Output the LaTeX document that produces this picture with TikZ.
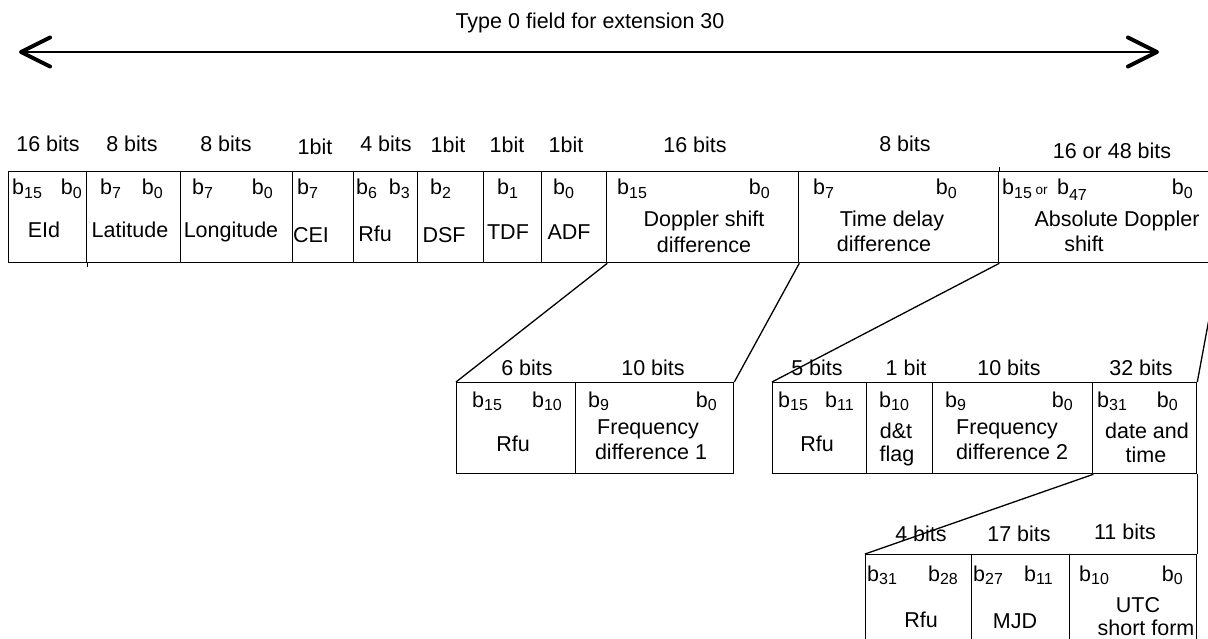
\documentclass[tikz,border=0pt]{standalone}
\usepackage{fontspec}
\setmainfont{Liberation Sans}
\usetikzlibrary{arrows.meta}
\newcommand{\bsub}[1]{b\raisebox{-3.5pt}{\fontsize{16}{16}\selectfont #1}}
\newcommand{\bsubor}{\bsub{15}\,{\fontsize{13.5}{13.5}\selectfont or}\, b\raisebox{-6pt}{\fontsize{16}{16}\selectfont 47}}
\begin{document}
\begin{tikzpicture}[x=1pt,y=-1pt,
  txt/.style={inner sep=0pt, font=\fontsize{21.5}{25}\selectfont},
  bl/.style={txt, anchor=base west},
  br/.style={txt, anchor=base east},
  bc/.style={txt, anchor=base},
  field/.style={draw, line width=1.3pt, inner sep=0pt, minimum height=91pt, anchor=north west},
  lowfield/.style={field, minimum height=110pt},
  conn/.style={line width=1.3pt},
  barb/.tip={Straight Barb[length=29pt, width=29pt, line width=4pt, round]}]
\useasboundingbox (0,0) rectangle (1208,639);
\clip (0,0) rectangle (1208,639);

% title arrow
\node[bc] (title) at (590,29) {Type 0 field for extension 30};
\coordinate (la) at (19,52);
\coordinate (ra) at (1159,52);
\draw[conn, barb-barb] (la) -- (ra);

% top row boxes
\node[field, minimum width=78pt]  (eid) at (8,171) {};
\node[field, minimum width=94pt]  (lat) at (86,171) {};
\node[field, minimum width=112pt] (lon) at (180,171) {};
\node[field, minimum width=61pt]  (cei) at (292,171) {};
\node[field, minimum width=64pt]  (rfu) at (353,171) {};
\node[field, minimum width=66pt]  (dsf) at (417,171) {};
\node[field, minimum width=58pt]  (tdf) at (483,171) {};
\node[field, minimum width=65pt]  (adf) at (541,171) {};
\node[field, minimum width=192pt] (dsd) at (606,171) {};
\node[field, minimum width=200pt] (tdd) at (798,171) {};
\node[field, minimum width=220pt] (ads) at (998,171) {};
\draw[conn] (eid.south east) -- ++(0,4);
\draw[conn] (tdd.north east) -- ++(0,-4);

% top row bit counts
\node[bc] (t1) at (48,152) {16 bits};
\node[bc] (t2) at (132,152) {8 bits};
\node[bc] (t3) at (226,152) {8 bits};
\node[bc] (t4) at (315,155) {1bit};
\node[bc] (t5) at (386,152) {4 bits};
\node[bc] (t6) at (448,153) {1bit};
\node[bc] (t7) at (507,153) {1bit};
\node[bc] (t8) at (566,153) {1bit};
\node[bc] (t9) at (695,153) {16 bits};
\node[bc] (t10) at (905,152) {8 bits};
\node[bc] (t11) at (1112,159) {16 or 48 bits};

% top row bit indices
\node[bl] (a1) at (12,195) {\bsub{15}};
\node[br] (a2) at (82,195) {\bsub{0}};
\node[bl] (a3) at (100,195) {\bsub{7}};
\node[br] (a4) at (163,195) {\bsub{0}};
\node[bl] (a5) at (192,195) {\bsub{7}};
\node[br] (a6) at (273,195) {\bsub{0}};
\node[bl] (a7) at (297,195) {\bsub{7}};
\node[bl] (a8) at (356,195) {\bsub{6}};
\node[br] (a9) at (410,195) {\bsub{3}};
\node[bl] (a10) at (430,195) {\bsub{2}};
\node[bl] (a11) at (497,195) {\bsub{1}};
\node[bl] (a12) at (553,195) {\bsub{0}};
\node[bl] (a13) at (617,195) {\bsub{15}};
\node[br] (a14) at (770,195) {\bsub{0}};
\node[bl] (a15) at (813,195) {\bsub{7}};
\node[br] (a16) at (957,195) {\bsub{0}};
\node[bl] (a17) at (1002,195) {\bsubor};
\node[br] (a18) at (1193,195) {\bsub{0}};

% top row names
\node[bc] (n1) at (44,238) {EId};
\node[bc] (n2) at (130,238) {Latitude};
\node[bc] (n3) at (231,238) {Longitude};
\node[bc] (n4) at (311,243) {CEI};
\node[bc] (n5) at (375,242) {Rfu};
\node[bc] (n6) at (444,243) {DSF};
\node[bc] (n7) at (508,240) {TDF};
\node[bc] (n8) at (569,240) {ADF};
\node[bc] (n9) at (704,227) {Doppler shift};
\node[bc] (n10) at (704,253) {difference};
\node[bc] (n11) at (892,227) {Time delay};
\node[bc] (n12) at (884,252) {difference};
\node[bc] (n13) at (1117,227) {Absolute Doppler};
\node[bc] (n14) at (1084,252) {shift};

% middle rows
\node[field, minimum width=119pt] (rfuA) at (456,382) {};
\node[field, minimum width=158pt] (fd1)  at (575,382) {};
\node[field, minimum width=94pt]  (rfuB) at (772,382) {};
\node[field, minimum width=66pt]  (dtf)  at (866,382) {};
\node[field, minimum width=160pt] (fd2)  at (932,382) {};
\node[field, minimum width=104pt] (dat)  at (1092,382) {};

\node[bc] (m1) at (527,375) {6 bits};
\node[bc] (m2) at (653,375) {10 bits};
\node[bc] (m3) at (817,375) {5 bits};
\node[bc] (m4) at (906,375) {1 bit};
\node[bc] (m5) at (1009,375) {10 bits};
\node[bc] (m6) at (1141,375) {32 bits};

\node[bl] (c1) at (472,407) {\bsub{15}};
\node[br] (c2) at (562,407) {\bsub{10}};
\node[bl] (c3) at (588,407) {\bsub{9}};
\node[br] (c4) at (717,407) {\bsub{0}};
\node[bl] (c5) at (778,407) {\bsub{15}};
\node[br] (c6) at (854,407) {\bsub{11}};
\node[bl] (c7) at (879,407) {\bsub{10}};
\node[bl] (c8) at (945,407) {\bsub{9}};
\node[br] (c9) at (1073,407) {\bsub{0}};
\node[bl] (c10) at (1097,407) {\bsub{31}};
\node[br] (c11) at (1178,407) {\bsub{0}};

\node[bc] (p1) at (513,451) {Rfu};
\node[bc] (p2) at (648,434) {Frequency};
\node[bc] (p3) at (651,459) {difference 1};
\node[bc] (p4) at (817,451) {Rfu};
\node[bc] (p5) at (896,438) {d\&t};
\node[bc] (p6) at (897,461) {flag};
\node[bc] (p7) at (1007,434) {Frequency};
\node[bc] (p8) at (1012,459) {difference 2};
\node[bc] (p9) at (1147,438) {date and};
\node[bc] (p10) at (1146,462) {time};

% bottom row
\node[lowfield, minimum width=106pt] (rfuC) at (865,554) {};
\node[lowfield, minimum width=98pt]  (mjd)  at (971,554) {};
\node[lowfield, minimum width=127pt] (utc)  at (1069,554) {};

\node[bc] (q1) at (921,541) {4 bits};
\node[bc] (q2) at (1019,541) {17 bits};
\node[bc] (q3) at (1125,539) {11 bits};

\node[bl] (d1) at (867,581) {\bsub{31}};
\node[br] (d2) at (958,581) {\bsub{28}};
\node[bl] (d3) at (973,581) {\bsub{27}};
\node[br] (d4) at (1053,581) {\bsub{11}};
\node[bl] (d5) at (1079,581) {\bsub{10}};
\node[br] (d6) at (1183,581) {\bsub{0}};

\node[bc] (r1) at (921,627) {Rfu};
\node[bc] (r2) at (1015,628) {MJD};
\node[bc] (r3) at (1138,612) {UTC};
\node[bc] (r4) at (1146,635) {short form};

% connectors
\draw[conn] (adf.south east) -- (rfuA.north west);
\draw[conn] (dsd.south east) -- (fd1.north east);
\draw[conn] (tdd.south east) -- (rfuB.north west);
\draw[conn] (ads.south east) -- (dat.north east);
\draw[conn] (fd2.south east) -- (rfuC.north west);
\draw[conn] (dat.south east) -- (utc.north east);
\end{tikzpicture}
\end{document}
